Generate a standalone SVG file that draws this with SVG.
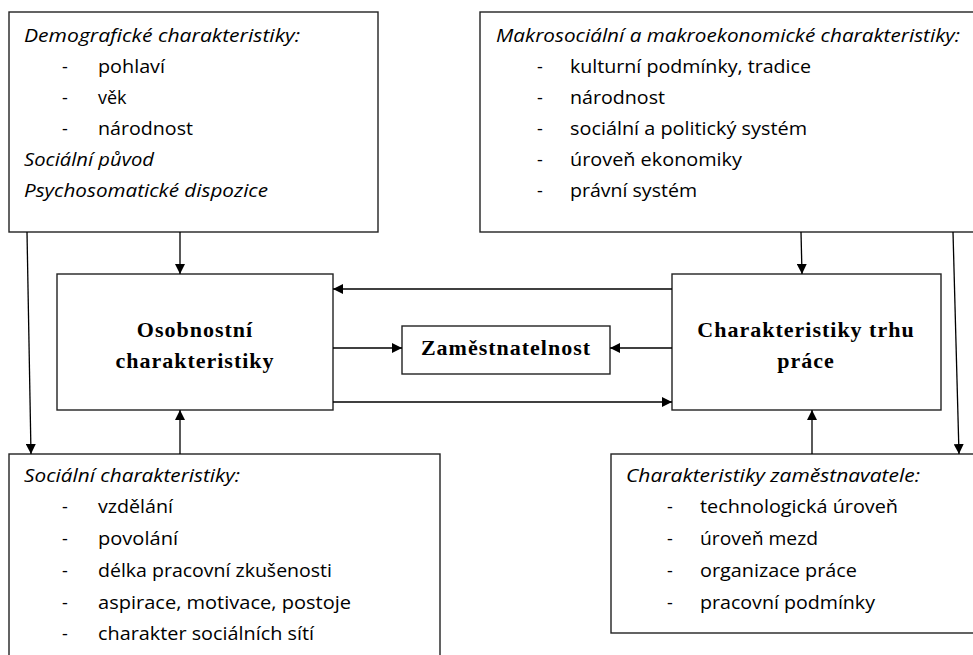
<svg xmlns="http://www.w3.org/2000/svg" width="973" height="655" viewBox="0 0 973 655">
<defs>
<marker id="ah" viewBox="0 0 10 10" refX="10" refY="5" markerWidth="10" markerHeight="10" markerUnits="userSpaceOnUse" orient="auto">
<path d="M0,0 L10,5 L0,10 Z" fill="#000"/>
</marker>
</defs>
<style>
.box{fill:#fff;stroke:#222;stroke-width:1.4}
.t{font-family:"Open Sans",Lato,"Liberation Sans",sans-serif;font-size:18px;fill:#000}
.i{font-style:italic}
.b{font-family:"Liberation Serif","Times New Roman",serif;font-weight:bold;font-size:22px;letter-spacing:1px;fill:#000}
.c{stroke:#000;stroke-width:1.3;fill:none;marker-end:url(#ah)}
</style>
<rect width="973" height="655" fill="#fff"/>
<g id="demograficke">
<rect class="box" x="9" y="12" width="369" height="220"/>
<text class="t i" x="24" y="42" textLength="276" lengthAdjust="spacingAndGlyphs">Demografické charakteristiky:</text>
<text class="t" x="62" y="73">-</text><text class="t" x="98" y="73" textLength="67" lengthAdjust="spacingAndGlyphs">pohlaví</text>
<text class="t" x="62" y="104">-</text><text class="t" x="98" y="104">věk</text>
<text class="t" x="62" y="135">-</text><text class="t" x="98" y="135" textLength="95" lengthAdjust="spacingAndGlyphs">národnost</text>
<text class="t i" x="24" y="166" textLength="130" lengthAdjust="spacingAndGlyphs">Sociální původ</text>
<text class="t i" x="24" y="197" textLength="244" lengthAdjust="spacingAndGlyphs">Psychosomatické dispozice</text>
</g>
<g id="makro">
<rect class="box" x="480" y="12" width="500" height="220"/>
<text class="t i" x="496" y="42" textLength="464" lengthAdjust="spacingAndGlyphs">Makrosociální a makroekonomické charakteristiky:</text>
<text class="t" x="537" y="73">-</text><text class="t" x="570" y="73" textLength="241" lengthAdjust="spacingAndGlyphs">kulturní podmínky, tradice</text>
<text class="t" x="537" y="104">-</text><text class="t" x="570" y="104" textLength="95" lengthAdjust="spacingAndGlyphs">národnost</text>
<text class="t" x="537" y="135">-</text><text class="t" x="570" y="135" textLength="237" lengthAdjust="spacingAndGlyphs">sociální a politický systém</text>
<text class="t" x="537" y="166">-</text><text class="t" x="570" y="166" textLength="172" lengthAdjust="spacingAndGlyphs">úroveň ekonomiky</text>
<text class="t" x="537" y="197">-</text><text class="t" x="570" y="197" textLength="127" lengthAdjust="spacingAndGlyphs">právní systém</text>
</g>
<g id="osobnostni">
<rect class="box" x="57" y="274" width="276" height="136"/>
<text class="b" x="195" y="337" text-anchor="middle">Osobnostní</text>
<text class="b" x="195" y="368" text-anchor="middle">charakteristiky</text>
</g>
<g id="zamestnatelnost">
<rect class="box" x="402" y="326" width="208" height="48"/>
<text class="b" x="506" y="355" text-anchor="middle">Zaměstnatelnost</text>
</g>
<g id="trh">
<rect class="box" x="672" y="274" width="269" height="136"/>
<text class="b" x="806" y="337" text-anchor="middle">Charakteristiky trhu</text>
<text class="b" x="806" y="368" text-anchor="middle">práce</text>
</g>
<g id="socialni">
<rect class="box" x="9" y="454" width="431" height="210"/>
<text class="t i" x="24" y="482" textLength="216" lengthAdjust="spacingAndGlyphs">Sociální charakteristiky:</text>
<text class="t" x="62" y="513">-</text><text class="t" x="98" y="513" textLength="75" lengthAdjust="spacingAndGlyphs">vzdělání</text>
<text class="t" x="62" y="545">-</text><text class="t" x="98" y="545" textLength="80" lengthAdjust="spacingAndGlyphs">povolání</text>
<text class="t" x="62" y="577">-</text><text class="t" x="98" y="577" textLength="234" lengthAdjust="spacingAndGlyphs">délka pracovní zkušenosti</text>
<text class="t" x="62" y="609">-</text><text class="t" x="98" y="609" textLength="253" lengthAdjust="spacingAndGlyphs">aspirace, motivace, postoje</text>
<text class="t" x="62" y="640">-</text><text class="t" x="98" y="640" textLength="216" lengthAdjust="spacingAndGlyphs">charakter sociálních sítí</text>
</g>
<g id="zamestnavatel">
<rect class="box" x="611" y="454" width="370" height="179"/>
<text class="t i" x="626" y="482" textLength="294" lengthAdjust="spacingAndGlyphs">Charakteristiky zaměstnavatele:</text>
<text class="t" x="667" y="513">-</text><text class="t" x="700" y="513" textLength="198" lengthAdjust="spacingAndGlyphs">technologická úroveň</text>
<text class="t" x="667" y="545">-</text><text class="t" x="700" y="545" textLength="118" lengthAdjust="spacingAndGlyphs">úroveň mezd</text>
<text class="t" x="667" y="577">-</text><text class="t" x="700" y="577" textLength="157" lengthAdjust="spacingAndGlyphs">organizace práce</text>
<text class="t" x="667" y="609">-</text><text class="t" x="700" y="609" textLength="175" lengthAdjust="spacingAndGlyphs">pracovní podmínky</text>
</g>
<g id="connectors">
<line class="c" x1="180" y1="232" x2="180" y2="274"/>
<line class="c" x1="801" y1="232" x2="802" y2="274"/>
<line class="c" x1="27" y1="232" x2="31" y2="454"/>
<line class="c" x1="953" y1="232" x2="959" y2="454"/>
<line class="c" x1="180" y1="454" x2="180" y2="410"/>
<line class="c" x1="812" y1="454" x2="812" y2="410"/>
<line class="c" x1="672" y1="289" x2="333" y2="289"/>
<line class="c" x1="333" y1="348" x2="402" y2="348"/>
<line class="c" x1="672" y1="348" x2="610" y2="348"/>
<line class="c" x1="333" y1="402" x2="672" y2="402"/>
</g>
</svg>
